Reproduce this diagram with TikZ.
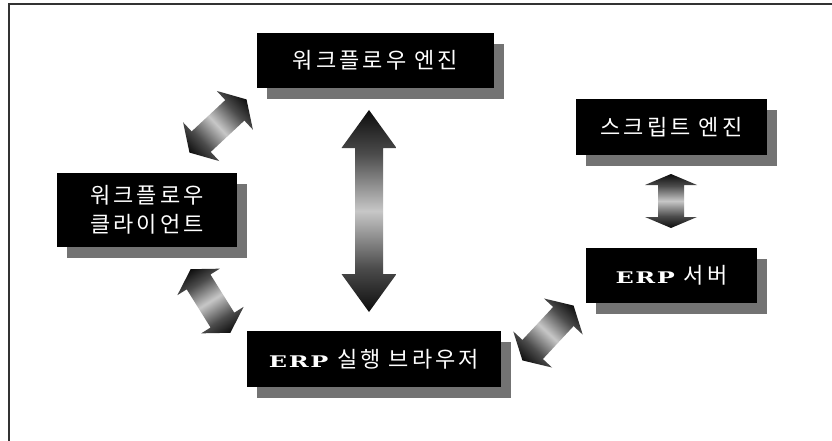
\documentclass[tikz,border=0pt]{standalone}
\usepackage{fontspec}
\usepackage{graphicx}
\usetikzlibrary{shadows}
\newfontfamily\kr{Noto Sans CJK KR}[LetterSpace=14]
\newfontfamily\erp{DejaVu Serif}[FakeStretch=1.15, LetterSpace=8]
\pgfdeclarehorizontalshading{arrsh}{100bp}{color(0bp)=(black!95); color(25bp)=(black!95); color(36bp)=(black!70); color(50bp)=(black!22); color(64bp)=(black!70); color(75bp)=(black!95); color(100bp)=(black!95)}
% #1,#2 centre  #3 angle  #4 length  #5 head length  #6 head width  #7 shaft width
\newcommand\dblarr[7]{%
  \begin{scope}[transform canvas={shift={(#1,#2)},rotate=#3}]
    \shade[shading=arrsh]
      (-#4/2,0) -- (-#4/2+#5,#6/2) -- (-#4/2+#5,#7/2) -- (#4/2-#5,#7/2)
      -- (#4/2-#5,#6/2) -- (#4/2,0) -- (#4/2-#5,-#6/2) -- (#4/2-#5,-#7/2)
      -- (-#4/2+#5,-#7/2) -- (-#4/2+#5,-#6/2) -- cycle;
  \end{scope}}
\newcommand\erptxt{\scalebox{1.3}[1]{\erp\bfseries\fontsize{16}{20}\selectfont ERP}\hspace{9pt}}
\tikzset{
  box/.style={fill=black, text=white, inner sep=0pt, align=center,
    font=\kr\fontsize{22}{29}\selectfont,
    drop shadow={shadow xshift=10pt, shadow yshift=-11pt, fill=black!55, opacity=1}},
  frame/.style={line width=1.6pt, black!80}
}
\begin{document}
\begin{tikzpicture}[x=1pt,y=-1pt]
\useasboundingbox[fill=white] (0,0) rectangle (832,441);
\draw[frame] (9,441) -- (9,4) -- (832,4);

\node[box, minimum width=237pt, minimum height=55pt] (eng) at (375.5,60.5) {워크플로우 엔진};
\node[box, minimum width=191pt, minimum height=56pt] (scr) at (671.5,127) {스크립트 엔진};
\node[box, minimum width=180pt, minimum height=74pt] (cli) at (147,210) {워크플로우\\클라이언트};
\node[box, minimum width=171pt, minimum height=55pt] (srv) at (671.5,275.5) {\erptxt 서버};
\node[box, minimum width=254pt, minimum height=56pt] (brw) at (374,359) {\erptxt 실행 브라우저};

% block arrows
\dblarr{218}{126}{43}{78}{16}{53}{28}
\dblarr{210.5}{301}{-58}{75}{15}{50}{28}
\dblarr{548}{333}{47}{75}{15}{53}{28}
\dblarr{369}{211}{90}{202}{38}{55}{28}
\dblarr{671}{201}{90}{54}{11}{52}{26}
\end{tikzpicture}
\end{document}
